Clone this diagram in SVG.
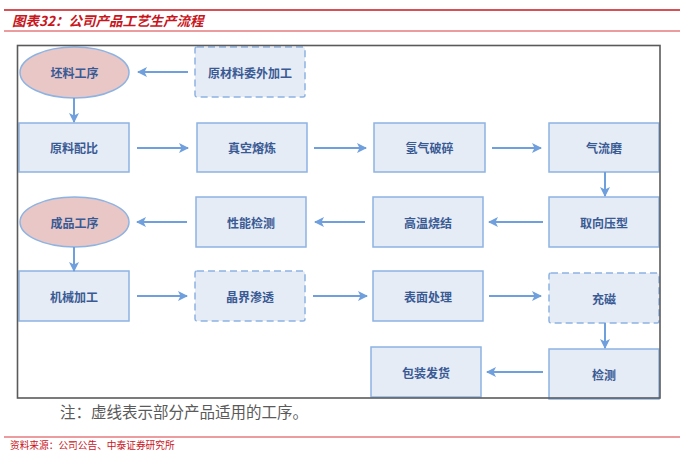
<svg xmlns="http://www.w3.org/2000/svg" width="700" height="459" viewBox="0 0 700 459">
<style>
.box{fill:#e6ecf6;stroke:#8db3e2;stroke-width:1.5}
.dash{fill:#e6ecf6;stroke:#8db3e2;stroke-width:1.5;stroke-dasharray:7 4}
.oval{fill:#e8c7c6;stroke:#8db3e2;stroke-width:1.5}
.lbl{font-family:"Noto Sans CJK SC","Noto Sans",sans-serif;font-size:12px;font-weight:bold;fill:#3a5a94;text-anchor:middle;dominant-baseline:central}
.conn line{stroke:#6f9fdc;stroke-width:2;marker-end:url(#ah)}
</style>
<defs>
<marker id="ah" viewBox="0 0 10 10" refX="9" refY="5" markerWidth="5" markerHeight="5" orient="auto" markerUnits="strokeWidth">
<path d="M0,0 L10,5 L0,10 L2.5,5 Z" fill="#6f9fdc"/>
</marker>
</defs>
<rect width="700" height="459" fill="#ffffff"/>
<g id="title">
<line x1="4" y1="10" x2="680" y2="10" stroke="#c8161d" stroke-width="1.5"/>
<line x1="4" y1="31" x2="680" y2="31" stroke="#d9383e" stroke-width="1.2"/>
<text x="12" y="26" font-family="Noto Sans CJK SC,sans-serif" font-size="13.5" font-weight="bold" font-style="italic" fill="#c8161d">图表32：公司产品工艺生产流程</text>
</g>
<g id="n-pilao"><ellipse class="oval" cx="74.5" cy="72.5" rx="54.5" ry="25.5"/><text class="lbl" x="74.5" y="72.5">坯料工序</text></g>
<g id="n-weiwai"><rect class="dash" x="195" y="47" width="110" height="50" rx="2"/><text class="lbl" x="250" y="72">原材料委外加工</text></g>
<g id="n-peibi"><rect class="box" x="19" y="123" width="110" height="49"/><text class="lbl" x="74" y="147.5">原料配比</text></g>
<g id="n-rongl"><rect class="box" x="197" y="123" width="110" height="49"/><text class="lbl" x="252" y="147.5">真空熔炼</text></g>
<g id="n-qingqi"><rect class="box" x="374" y="123" width="111" height="49"/><text class="lbl" x="429.5" y="147.5">氢气破碎</text></g>
<g id="n-qiliu"><rect class="box" x="549" y="123" width="110" height="49"/><text class="lbl" x="604" y="147.5">气流磨</text></g>
<g id="n-chengpin"><ellipse class="oval" cx="74.5" cy="222" rx="54.5" ry="25"/><text class="lbl" x="74.5" y="222">成品工序</text></g>
<g id="n-xingneng"><rect class="box" x="196" y="197" width="110" height="50"/><text class="lbl" x="251" y="222">性能检测</text></g>
<g id="n-gaowen"><rect class="box" x="373" y="197" width="110" height="50"/><text class="lbl" x="428" y="222">高温烧结</text></g>
<g id="n-quxiang"><rect class="box" x="549" y="197" width="110" height="50"/><text class="lbl" x="604" y="222">取向压型</text></g>
<g id="n-jixie"><rect class="box" x="19" y="271" width="110" height="50"/><text class="lbl" x="74" y="296">机械加工</text></g>
<g id="n-jingjie"><rect class="dash" x="195" y="271" width="110" height="50" rx="2"/><text class="lbl" x="250" y="296">晶界渗透</text></g>
<g id="n-biaomian"><rect class="box" x="373" y="271" width="110" height="50"/><text class="lbl" x="428" y="296">表面处理</text></g>
<g id="n-chongci"><rect class="dash" x="549" y="273" width="110" height="50" rx="2"/><text class="lbl" x="604" y="298">充磁</text></g>
<g id="n-baozhuang"><rect class="box" x="371" y="347" width="110" height="50"/><text class="lbl" x="426" y="372">包装发货</text></g>
<g id="n-jiance"><rect class="box" x="549" y="349" width="110" height="50"/><text class="lbl" x="604" y="374">检测</text></g>
<g class="conn" id="connectors">
<line x1="188" y1="72" x2="138" y2="72"/>
<line x1="74" y1="98" x2="74" y2="122"/>
<line x1="137" y1="148" x2="188" y2="148"/>
<line x1="314" y1="148" x2="366" y2="148"/>
<line x1="492" y1="148" x2="541" y2="148"/>
<line x1="605" y1="172" x2="605" y2="196"/>
<line x1="543" y1="222" x2="489" y2="222"/>
<line x1="365" y1="222" x2="315" y2="222"/>
<line x1="187" y1="222" x2="137" y2="222"/>
<line x1="74" y1="247" x2="74" y2="271"/>
<line x1="137" y1="296" x2="187" y2="296"/>
<line x1="313" y1="296" x2="367" y2="296"/>
<line x1="489" y1="296" x2="541" y2="296"/>
<line x1="605" y1="323" x2="605" y2="348"/>
<line x1="543" y1="372" x2="487" y2="372"/>
</g>
<rect x="17.5" y="45.5" width="642.5" height="352.5" fill="none" stroke="#5a5a5a" stroke-width="1.6"/>
<line x1="4" y1="437" x2="680" y2="437" stroke="#d9383e" stroke-width="1.2"/>
<text x="60" y="418" font-family="Noto Sans CJK SC,sans-serif" font-size="15.5" fill="#5a5a5a">注：虚线表示部分产品适用的工序。</text>
<text x="10" y="449" font-family="Noto Sans CJK SC,sans-serif" font-size="9.7" fill="#c8161d">资料来源：公司公告、中泰证券研究所</text>
</svg>
